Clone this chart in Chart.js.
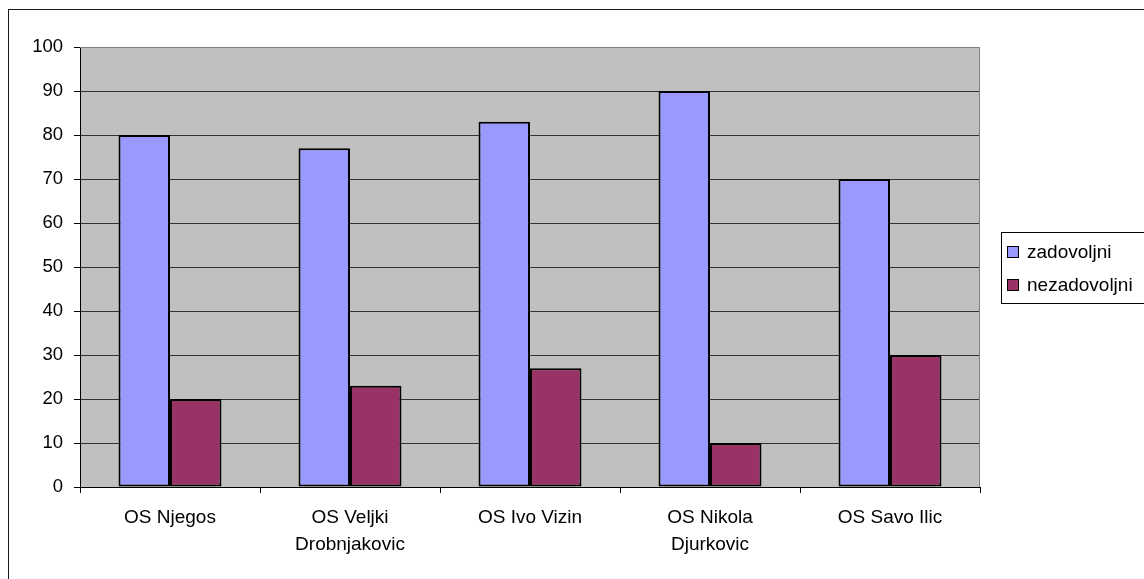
<!DOCTYPE html>
<html>
<head>
<meta charset="utf-8">
<script src="https://cdn.jsdelivr.net/npm/chart.js@4.4.1/dist/chart.umd.min.js"></script>
<style>
  html, body { margin: 0; padding: 0; background: #fff; }
  .chart-box { width: 1144px; height: 579px; position: relative; }
</style>
</head>
<body>
<div class="chart-box">
  <canvas id="schoolChart"></canvas>
</div>
<script>
// data
const schools = [
  "OS Njegos",
  ["OS Veljki", "Drobnjakovic"],
  "OS Ivo Vizin",
  ["OS Nikola", "Djurkovic"],
  "OS Savo Ilic",
];
const satisfied = [80, 77, 83, 90, 70];
const unsatisfied = [20, 23, 27, 10, 30];
const seriesNames = ["zadovoljni", "nezadovoljni"];
const yTicks = [0, 10, 20, 30, 40, 50, 60, 70, 80, 90, 100];

const FONT = "'Liberation Sans', Arial, sans-serif";

// gray plot background, outer frame, plot border and a boxed legend like the old Excel chart
const excelLook = {
  id: "excelLook",
  beforeDraw(chart) {
    const { ctx, chartArea: a } = chart;
    ctx.save();
    ctx.fillStyle = "#C0C0C0";
    ctx.fillRect(a.left, a.top, a.right - a.left, a.bottom - a.top);
    ctx.restore();
  },
  afterDraw(chart) {
    const { ctx, chartArea: a } = chart;
    ctx.save();
    // outer frame (runs off the right and bottom edge)
    ctx.strokeStyle = "#1a1a1a";
    ctx.lineWidth = 1;
    ctx.strokeRect(8.5, 9.5, 1300, 700);

    // plot area border top / right
    ctx.strokeStyle = "#808080";
    ctx.beginPath();
    ctx.moveTo(a.left, a.top + 0.5);
    ctx.lineTo(a.right - 0.5, a.top + 0.5);
    ctx.lineTo(a.right - 0.5, a.bottom);
    ctx.stroke();

    // legend
    ctx.strokeStyle = "#000";
    ctx.strokeRect(1001.5, 232.5, 300, 71);
    ctx.font = "19px " + FONT;
    ctx.textBaseline = "middle";
    chart.data.datasets.forEach((ds, i) => {
      const y = 252 + i * 33;
      ctx.fillStyle = ds.backgroundColor;
      ctx.fillRect(1007.5, y - 5.5, 11, 11);
      ctx.strokeStyle = "#000";
      ctx.strokeRect(1007.5, y - 5.5, 11, 11);
      ctx.fillStyle = "#000";
      ctx.fillText(ds.label, 1027, y + 1);
    });
    ctx.restore();
  },
};

const ctx = document.getElementById("schoolChart").getContext("2d");
new Chart(ctx, {
  type: "bar",
  data: {
    labels: schools,
    datasets: [
      {
        label: seriesNames[0],
        data: satisfied,
        backgroundColor: "#9999FF",
        borderColor: "#000",
        borderWidth: 2,
        borderSkipped: false,
      },
      {
        label: seriesNames[1],
        data: unsatisfied,
        backgroundColor: "#993366",
        borderColor: "#000",
        borderWidth: 2,
        borderSkipped: false,
      },
    ],
  },
  options: {
    responsive: true,
    maintainAspectRatio: false,
    animation: false,
    layout: { padding: { top: 47, right: 164, left: 0, bottom: 0 } },
    datasets: { bar: { categoryPercentage: 0.572, barPercentage: 1 } },
    plugins: {
      legend: { display: false },
      tooltip: { enabled: false },
      title: { display: false },
    },
    scales: {
      x: {
        type: "category",
        afterFit: (s) => { s.height = 92; },
        grid: {
          drawOnChartArea: false,
          drawTicks: true,
          tickLength: 6,
          tickColor: "#000",
          offset: true,
        },
        border: { color: "#000", width: 1 },
        ticks: {
          color: "#000",
          padding: 11,
          maxRotation: 0,
          autoSkip: false,
          font: { family: FONT, size: 19, lineHeight: 1.42 },
        },
      },
      y: {
        min: 0,
        max: 100,
        afterFit: (s) => { s.width = 80; },
        afterBuildTicks: (s) => { s.ticks = yTicks.map((v) => ({ value: v })); },
        grid: {
          color: (c) => (c.tick && c.tick.value === 100 ? "#808080" : "#333"),
          tickColor: "#000",
          tickLength: 6,
        },
        border: { color: "#000", width: 1 },
        ticks: {
          color: "#000",
          padding: 11,
          font: { family: FONT, size: 18.5 },
        },
      },
    },
  },
  plugins: [excelLook],
});
</script>
</body>
</html>
